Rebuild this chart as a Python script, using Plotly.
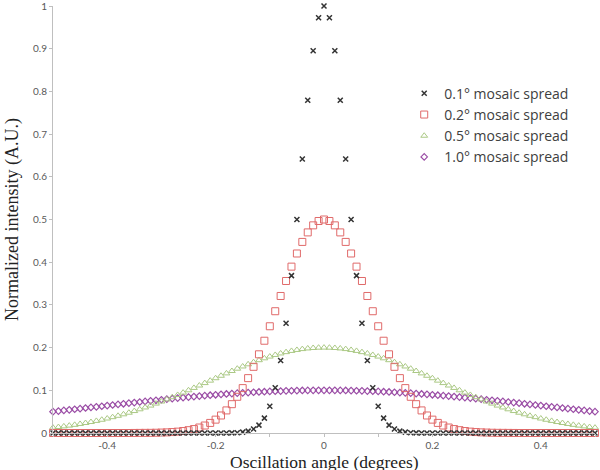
import plotly.graph_objects as go

# oscillation angle, degrees (-0.50 .. 0.50 in 0.01 steps)
angle = [round(-0.5 + 0.01 * i, 2) for i in range(101)]

spread_01 = [
    0, 0, 0, 0, 0, 0, 0, 0, 0, 0,
    0, 0, 0, 0, 0, 0, 0, 0, 0, 0,
    0, 0, 0, 0, 0, 0, 0, 0, 0, 0,
    0, 0, 0, 0.0003, 0.0008, 0.0020, 0.0044, 0.0093, 0.0185, 0.0349,
    0.0625, 0.1058, 0.1696, 0.2570, 0.3686, 0.5, 0.6417, 0.7792, 0.8950, 0.9727,
    1.0,
    0.9727, 0.8950, 0.7792, 0.6417, 0.5, 0.3686, 0.2570, 0.1696, 0.1058, 0.0625,
    0.0349, 0.0185, 0.0093, 0.0044, 0.0020, 0.0008, 0.0003, 0, 0, 0,
    0, 0, 0, 0, 0, 0, 0, 0, 0, 0,
    0, 0, 0, 0, 0, 0, 0, 0, 0, 0,
    0, 0, 0, 0, 0, 0, 0, 0, 0, 0,
]

spread_02 = [
    0, 0, 0, 0, 0, 0, 0, 0, 0, 0,
    0, 0, 0, 0, 0, 0.0001, 0.0002, 0.0003, 0.0004, 0.0006,
    0.0010, 0.0015, 0.0022, 0.0032, 0.0046, 0.0066, 0.0092, 0.0128, 0.0175, 0.0236,
    0.0313, 0.0410, 0.0529, 0.0675, 0.0848, 0.1051, 0.1285, 0.1550, 0.1843, 0.2161,
    0.25, 0.2852, 0.3209, 0.3560, 0.3896, 0.4204, 0.4475, 0.4698, 0.4863, 0.4965,
    0.5,
    0.4965, 0.4863, 0.4698, 0.4475, 0.4204, 0.3896, 0.3560, 0.3209, 0.2852, 0.25,
    0.2161, 0.1843, 0.1550, 0.1285, 0.1051, 0.0848, 0.0675, 0.0529, 0.0410, 0.0313,
    0.0236, 0.0175, 0.0128, 0.0092, 0.0066, 0.0046, 0.0032, 0.0022, 0.0015, 0.0010,
    0.0006, 0.0004, 0.0003, 0.0002, 0.0001, 0, 0, 0, 0, 0,
    0, 0, 0, 0, 0, 0, 0, 0, 0, 0,
]

spread_05 = [
    0.0125, 0.0140, 0.0155, 0.0173, 0.0191, 0.0212, 0.0234, 0.0257, 0.0283, 0.0310,
    0.0339, 0.0371, 0.0403, 0.0438, 0.0475, 0.0514, 0.0555, 0.0598, 0.0642, 0.0689,
    0.0737, 0.0787, 0.0838, 0.0891, 0.0945, 0.1, 0.1056, 0.1112, 0.1169, 0.1226,
    0.1283, 0.1340, 0.1396, 0.1452, 0.1506, 0.1558, 0.1609, 0.1658, 0.1705, 0.1749,
    0.1790, 0.1828, 0.1863, 0.1894, 0.1922, 0.1945, 0.1965, 0.1980, 0.1991, 0.1998,
    0.2,
    0.1998, 0.1991, 0.1980, 0.1965, 0.1945, 0.1922, 0.1894, 0.1863, 0.1828, 0.1790,
    0.1749, 0.1705, 0.1658, 0.1609, 0.1558, 0.1506, 0.1452, 0.1396, 0.1340, 0.1283,
    0.1226, 0.1169, 0.1112, 0.1056, 0.1, 0.0945, 0.0891, 0.0838, 0.0787, 0.0737,
    0.0689, 0.0642, 0.0598, 0.0555, 0.0514, 0.0475, 0.0438, 0.0403, 0.0371, 0.0339,
    0.0310, 0.0283, 0.0257, 0.0234, 0.0212, 0.0191, 0.0173, 0.0155, 0.0140, 0.0125,
]

spread_10 = [
    0.05, 0.0514, 0.0528, 0.0542, 0.0556, 0.0570, 0.0585, 0.0599, 0.0613, 0.0627,
    0.0642, 0.0656, 0.0670, 0.0684, 0.0698, 0.0712, 0.0726, 0.0739, 0.0753, 0.0766,
    0.0779, 0.0792, 0.0805, 0.0817, 0.0829, 0.0841, 0.0852, 0.0864, 0.0874, 0.0885,
    0.0895, 0.0905, 0.0914, 0.0923, 0.0932, 0.0940, 0.0947, 0.0954, 0.0961, 0.0967,
    0.0973, 0.0978, 0.0982, 0.0987, 0.0990, 0.0993, 0.0996, 0.0998, 0.0999, 0.1000,
    0.1,
    0.1000, 0.0999, 0.0998, 0.0996, 0.0993, 0.0990, 0.0987, 0.0982, 0.0978, 0.0973,
    0.0967, 0.0961, 0.0954, 0.0947, 0.0940, 0.0932, 0.0923, 0.0914, 0.0905, 0.0895,
    0.0885, 0.0874, 0.0864, 0.0852, 0.0841, 0.0829, 0.0817, 0.0805, 0.0792, 0.0779,
    0.0766, 0.0753, 0.0739, 0.0726, 0.0712, 0.0698, 0.0684, 0.0670, 0.0656, 0.0642,
    0.0627, 0.0613, 0.0599, 0.0585, 0.0570, 0.0556, 0.0542, 0.0528, 0.0514, 0.05,
]

x_ticks = [-0.5, -0.4, -0.3, -0.2, -0.1, 0, 0.1, 0.2, 0.3, 0.4, 0.5]
x_labels = ["", "-0.4", "", "-0.2", "", "0", "", "0.2", "", "0.4", ""]
y_ticks = [0, 0.1, 0.2, 0.3, 0.4, 0.5, 0.6, 0.7, 0.8, 0.9, 1]
y_labels = ["0", "0.1", "0.2", "0.3", "0.4", "0.5", "0.6", "0.7", "0.8", "0.9", "1"]

fig = go.Figure()

# drawn back to front so the 0.1 crosses sit on top, legend reversed
fig.add_trace(go.Scatter(x=angle, y=spread_10, mode="markers", name="1.0° mosaic spread",
                         marker=dict(symbol="diamond-open", size=5, color="#9b4ea6",
                                     line=dict(width=1.2)), cliponaxis=False))
fig.add_trace(go.Scatter(x=angle, y=spread_05, mode="markers", name="0.5° mosaic spread",
                         marker=dict(symbol="triangle-up-open", size=6, color="#abc985",
                                     line=dict(width=1)), cliponaxis=False))
fig.add_trace(go.Scatter(x=angle, y=spread_02, mode="markers", name="0.2° mosaic spread",
                         marker=dict(symbol="square-open", size=7, color="#e06a6a",
                                     line=dict(width=1)), cliponaxis=False))
fig.add_trace(go.Scatter(x=angle, y=spread_01, mode="markers", name="0.1° mosaic spread",
                         marker=dict(symbol="x-thin", size=5, color="#333333",
                                     line=dict(width=1.5, color="#333333")), cliponaxis=False))

fig.update_layout(
    width=600, height=470,
    margin=dict(l=53, r=5, t=6, b=37),
    paper_bgcolor="white", plot_bgcolor="white",
    showlegend=True,
    legend=dict(x=0.648, y=0.832, xanchor="left", yanchor="top", traceorder="reversed",
                font=dict(family="Open Sans", size=14, color="#404040"),
                bgcolor="rgba(0,0,0,0)", tracegroupgap=0),
    font=dict(family="Lato", size=10, color="#595959"),
)
fig.update_xaxes(range=[-0.5, 0.5], tickvals=x_ticks, ticktext=x_labels, automargin=False,
                 showgrid=False, zeroline=False, showline=True, linecolor="#bfbfbf",
                 ticks="outside", ticklen=3, tickcolor="#bfbfbf",
                 tickfont=dict(family="Lato", size=10, color="#595959"))
fig.update_yaxes(range=[0, 1], tickvals=y_ticks, ticktext=y_labels, automargin=False,
                 ticklabeloverflow="allow",
                 showgrid=False, zeroline=False, showline=True, linecolor="#bfbfbf",
                 ticks="outside", ticklen=3, tickcolor="#bfbfbf",
                 tickfont=dict(family="Lato", size=10, color="#595959"),
                 title=dict(text="Normalized intensity (A.U.)", standoff=9,
                            font=dict(family="Liberation Serif", size=18, color="#222222")))

# x title placed as an annotation so it sits a little below the tick labels
fig.add_annotation(text="Oscillation angle (degrees)", xref="paper", yref="paper",
                   x=0.5, y=-0.067, xanchor="center", yanchor="middle", showarrow=False,
                   font=dict(family="Liberation Serif", size=17.5, color="#222222"))

# the page body has a default 8px margin; drop it so the figure fills the window
fig.write_html("out.html", config={"displayModeBar": False},
               post_script="document.body.style.margin='0';")
